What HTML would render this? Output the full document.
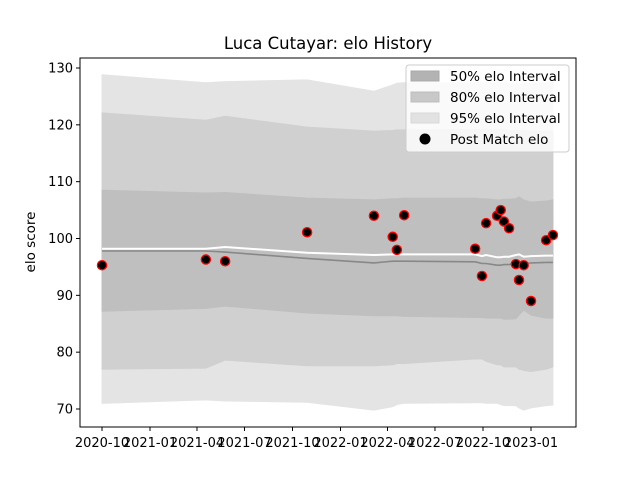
<!DOCTYPE html>
<html><head><meta charset="utf-8"><style>
body{margin:0;background:#fff}
svg text{font-family:"DejaVu Sans","Liberation Sans",sans-serif;fill:#000}
</style></head><body>
<svg id="chart" width="640" height="480">
<rect x="0" y="0" width="640" height="480" fill="#fff"/>
<text x="328" y="49" font-size="16.5" text-anchor="middle">Luca Cutayar: elo History</text>
<g id="plot"></g>
<rect x="80" y="58" width="496" height="369" fill="none" stroke="#000" stroke-width="1"/>
<g id="xt"></g><g id="yt"></g>
<text transform="translate(35,242) rotate(-90)" font-size="13.5" text-anchor="middle">elo score</text>
<g>
<rect x="406" y="65" width="163" height="87" rx="3" fill="#fff" fill-opacity="0.8" stroke="#ccc"/>
<rect x="411" y="71" width="28" height="10" fill="#b3b3b3" stroke="#a8a8a8"/>
<text x="450" y="81" font-size="13.5">50% elo Interval</text>
<rect x="411" y="92" width="28" height="10" fill="#c8c8c8" stroke="#bdbdbd"/>
<text x="450" y="102" font-size="13.5">80% elo Interval</text>
<rect x="411" y="113" width="28" height="10" fill="#e2e2e2" stroke="#d8d8d8"/>
<text x="450" y="123" font-size="13.5">95% elo Interval</text>
<circle cx="425" cy="139" r="5.5" fill="#000"/>
<text x="450" y="144" font-size="13.5">Post Match elo</text>
</g>
</svg>
<script>
const days=[0,199,236,393,521,557,565,579,715,728,736,757,764,770,780,793,799,808,822,851,864];
const elo=[95.3,96.3,96.0,101.1,104.0,100.3,98.0,104.1,98.2,93.4,102.7,104.0,105.0,103.0,101.8,95.5,92.7,95.3,89.0,99.7,100.6];
const u95=[128.8,127.4,127.6,127.9,125.9,127.0,127.3,127.4,127.4,127.4,127.4,127.4,127.4,127.4,127.2,127.2,127.0,127.3,127.3,127.4,127.4];
const u80=[122.1,120.8,121.5,119.6,118.9,119.0,119.1,119.1,119.2,119.2,119.2,119.2,119.2,119.2,119.0,119.0,118.9,119.0,118.9,118.9,118.9];
const u50=[108.5,108.0,108.1,107.1,106.8,107.0,107.0,107.1,107.1,107.0,107.0,106.8,106.8,106.9,106.9,107.0,107.3,106.8,106.4,106.6,106.8];
const meanV=[97.8,97.8,97.6,96.5,95.7,96.0,96.0,96.0,95.9,95.6,95.6,95.3,95.3,95.4,95.4,95.8,95.9,95.6,95.7,95.8,95.8];
const medV=[98.2,98.2,98.5,97.5,97.1,97.2,97.2,97.2,97.2,96.9,97.1,96.7,96.7,96.8,96.8,97.1,97.2,96.8,96.9,97.0,97.0];
const l50=[87.2,87.7,88.1,86.9,86.4,86.4,86.4,86.3,86.1,86.1,86.0,86.0,86.0,85.8,85.8,85.9,86.5,87.4,86.5,86.0,86.0];
const l80=[77.0,77.2,78.6,77.6,77.6,77.8,78.0,78.0,78.8,78.8,78.4,77.8,77.8,77.4,77.4,77.4,77.0,76.8,76.6,77.0,77.4];
const l95=[71.0,71.6,71.4,71.2,69.8,70.4,70.8,71.0,71.1,71.1,71.0,71.0,70.8,70.6,70.6,70.6,70.2,69.8,70.2,70.6,70.7];
const xTickDays=[0,92,182,273,365,457,547,638,730,822];
const xTickLabels=["2020-10","2021-01","2021-04","2021-07","2021-10","2022-01","2022-04","2022-07","2022-10","2023-01"];
const yTicks=[70,80,90,100,110,120,130];

const NS="http://www.w3.org/2000/svg";
function X(d){return 102+d*(429/822);}
function Y(v){return 68+(130-v)*(341/60);}
function mk(tag,attrs,parent){const e=document.createElementNS(NS,tag);for(const k in attrs)e.setAttribute(k,attrs[k]);parent.appendChild(e);return e;}
const plot=document.getElementById('plot');
function band(up,lo,fill,name){
  let p=days.map((d,i)=>X(d).toFixed(1)+','+Y(up[i]).toFixed(1));
  let q=days.map((d,i)=>X(d).toFixed(1)+','+Y(lo[i]).toFixed(1)).reverse();
  const e=mk('polygon',{points:p.concat(q).join(' '),fill:fill,stroke:fill},plot);
  
  
}
band(u95,l95,'#e4e4e4','band-95');
band(u80,l80,'#d0d0d0','band-80');
band(u50,l50,'#bfbfbf','band-50');
function line(vals,col,w,name){
  const e=mk('polyline',{points:days.map((d,i)=>X(d).toFixed(1)+','+Y(vals[i]).toFixed(1)).join(' '),fill:'none',stroke:col,'stroke-width':w},plot);
  
  
}
line(meanV,'#888','1.6','mean-elo-line');
line(medV,'#fff','2','median-elo-line');
days.forEach((d,i)=>{
  const c=mk('circle',{cx:X(d),cy:Y(elo[i]),r:4.6,fill:'#000',stroke:'#f00','stroke-width':1.3},plot);
  
  
});
const xt=document.getElementById('xt');
xTickDays.forEach((d,i)=>{
  const t=mk('line',{x1:X(d),x2:X(d),y1:427,y2:431,stroke:'#000'},xt);
  
  
  const l=mk('text',{x:X(d),y:447,'font-size':'13','text-anchor':'middle'},xt);
  l.textContent=xTickLabels[i];
  
  
});
const yt=document.getElementById('yt');
yTicks.forEach(v=>{
  const t=mk('line',{x1:76,x2:80,y1:Y(v),y2:Y(v),stroke:'#000'},yt);
  
  
  const l=mk('text',{x:73,y:Y(v)+4.5,'font-size':'13','text-anchor':'end'},yt);
  l.textContent=v;
  
  
});
</script>
</body></html>
